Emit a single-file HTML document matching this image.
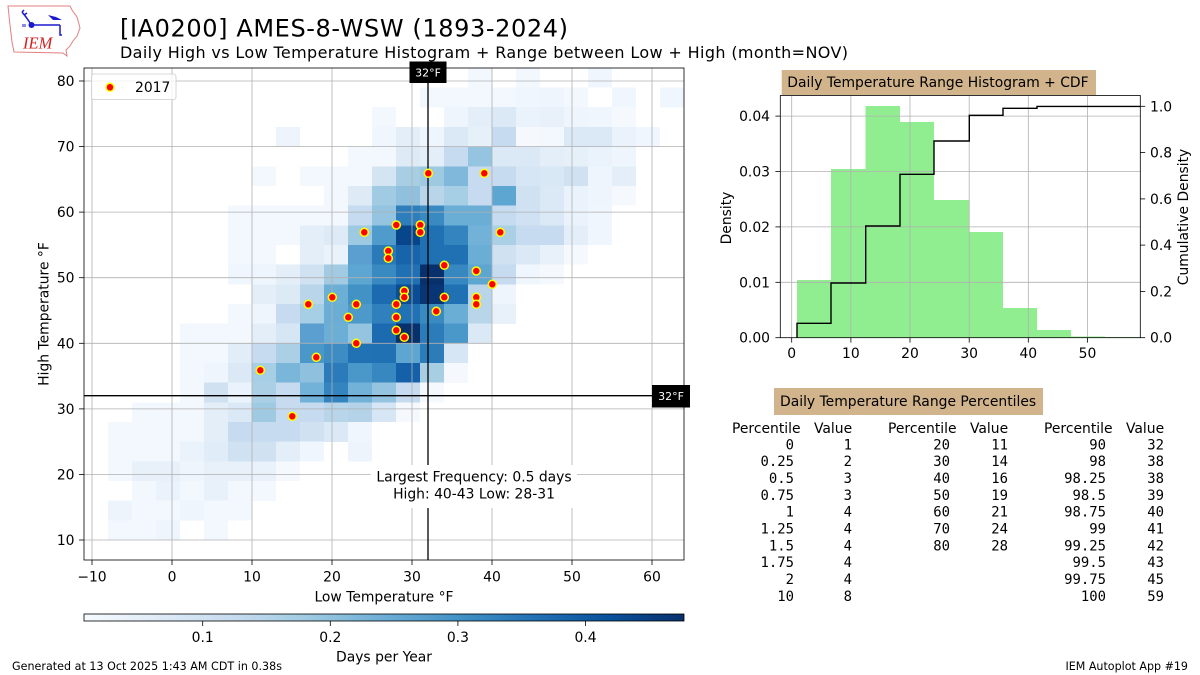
<!DOCTYPE html>
<html><head><meta charset="utf-8"><style>
html,body{margin:0;padding:0;background:#fff}
svg{display:block}
text{font-family:"DejaVu Sans","Liberation Sans",sans-serif;fill:#000}
.m text{font-family:"DejaVu Sans Mono","Liberation Mono",monospace}
</style></head><body>
<svg width="1200" height="675" viewBox="0 0 1200 675" xmlns="http://www.w3.org/2000/svg">
<rect width="1200" height="675" fill="#fff"/>
<!-- Logo -->
<g>
<path d="M8,6 L70,6 L72,10 L77,17 L80,28 L77,36 L73,41 L70,46 L66,50 L67,56 L63,53 L14,52 L12,42 L10,25 Z" fill="none" stroke="#e08080" stroke-width="1"/>
<path d="M31.5,25 L60,25 M31.5,25 L26,17 L22,12 M22,12 L24,10 M24,15 L27,13 M60,25 L60,35 L62,35" stroke="#1a1ad0" stroke-width="1.5" fill="none"/>
<path d="M48,15 L56,17 L62,20 L53,20 Z" fill="#1a1ad0"/>
<circle cx="31.5" cy="25" r="3" fill="#1a1ad0"/>
<path d="M23,24 L23,27 M25,24 L25,27" stroke="#1a1ad0" stroke-width="1"/>
<text x="23" y="48.5" font-style="italic" font-size="16.5" style="font-family:'Liberation Serif',serif;fill:#d02020">IEM</text>
</g>
<text x="120" y="36.5" font-size="24" textLength="448">[IA0200] AMES-8-WSW (1893-2024)</text>
<text x="120" y="58" font-size="16" textLength="728">Daily High vs Low Temperature Histogram + Range between Low + High (month=NOV)</text>

<defs><clipPath id="ax"><rect x="84" y="68" width="600" height="492"/></clipPath>
<linearGradient id="blues" x1="0" x2="1" y1="0" y2="0">
<stop offset="0" stop-color="#f7fbff"/><stop offset="0.125" stop-color="#deebf7"/><stop offset="0.25" stop-color="#c6dbef"/><stop offset="0.375" stop-color="#9ecae1"/><stop offset="0.5" stop-color="#6baed6"/><stop offset="0.625" stop-color="#4292c6"/><stop offset="0.75" stop-color="#2171b5"/><stop offset="0.875" stop-color="#08519c"/><stop offset="1" stop-color="#08306b"/>
</linearGradient></defs>

<g clip-path="url(#ax)" shape-rendering="crispEdges">
<g transform="translate(0,67.9)">
<rect x="468" width="24" height="19.8" fill="#f3f8fe"/><rect x="516" width="24" height="19.8" fill="#f3f8fe"/><rect x="588" width="24" height="19.8" fill="#f0f6fd"/>
</g>
<g transform="translate(0,87.57)">
<rect x="420" width="24" height="19.8" fill="#f3f8fe"/><rect x="444" width="24" height="19.8" fill="#f3f8fe"/><rect x="468" width="24" height="19.8" fill="#f3f8fe"/><rect x="492" width="24" height="19.8" fill="#f3f8fe"/><rect x="516" width="24" height="19.8" fill="#f0f6fd"/><rect x="540" width="24" height="19.8" fill="#eef5fc"/><rect x="564" width="24" height="19.8" fill="#f3f8fe"/><rect x="612" width="24" height="19.8" fill="#f0f6fd"/><rect x="660" width="24" height="19.8" fill="#f0f6fd"/>
</g>
<g transform="translate(0,107.24)">
<rect x="372" width="24" height="19.8" fill="#f3f8fe"/><rect x="444" width="24" height="19.8" fill="#eef5fc"/><rect x="468" width="24" height="19.8" fill="#e3eef8"/><rect x="492" width="24" height="19.8" fill="#dbe9f6"/><rect x="516" width="24" height="19.8" fill="#eaf2fb"/><rect x="540" width="24" height="19.8" fill="#e8f1fa"/><rect x="564" width="24" height="19.8" fill="#eef5fc"/><rect x="588" width="24" height="19.8" fill="#f0f6fd"/><rect x="612" width="24" height="19.8" fill="#f5f9fe"/>
</g>
<g transform="translate(0,126.92)">
<rect x="276" width="24" height="19.8" fill="#eef4fc"/><rect x="372" width="24" height="19.8" fill="#f0f6fd"/><rect x="396" width="24" height="19.8" fill="#e3eef9"/><rect x="420" width="24" height="19.8" fill="#eef5fc"/><rect x="444" width="24" height="19.8" fill="#dbe9f6"/><rect x="468" width="24" height="19.8" fill="#e6f0f9"/><rect x="492" width="24" height="19.8" fill="#c6dbef"/><rect x="516" width="24" height="19.8" fill="#f5f9fe"/><rect x="540" width="24" height="19.8" fill="#f3f8fe"/><rect x="564" width="24" height="19.8" fill="#dbe9f6"/><rect x="588" width="24" height="19.8" fill="#dbe9f6"/><rect x="612" width="24" height="19.8" fill="#eaf2fb"/><rect x="636" width="24" height="19.8" fill="#f0f6fd"/>
</g>
<g transform="translate(0,146.59)">
<rect x="348" width="24" height="19.8" fill="#f3f8fe"/><rect x="372" width="24" height="19.8" fill="#f3f8fe"/><rect x="396" width="24" height="19.8" fill="#deebf7"/><rect x="420" width="24" height="19.8" fill="#e3eef8"/><rect x="444" width="24" height="19.8" fill="#c6dbef"/><rect x="468" width="24" height="19.8" fill="#94c4df"/><rect x="492" width="24" height="19.8" fill="#dbe9f6"/><rect x="516" width="24" height="19.8" fill="#dbe9f6"/><rect x="540" width="24" height="19.8" fill="#e3eef8"/><rect x="564" width="24" height="19.8" fill="#e6f0f9"/><rect x="588" width="24" height="19.8" fill="#eaf2fb"/><rect x="612" width="24" height="19.8" fill="#eef5fc"/>
</g>
<g transform="translate(0,166.26)">
<rect x="252" width="24" height="19.8" fill="#f3f8fe"/><rect x="300" width="24" height="19.8" fill="#f3f8fe"/><rect x="324" width="24" height="19.8" fill="#f3f8fe"/><rect x="348" width="24" height="19.8" fill="#f3f8fe"/><rect x="372" width="24" height="19.8" fill="#d3e4f3"/><rect x="396" width="24" height="19.8" fill="#a8cee4"/><rect x="420" width="24" height="19.8" fill="#9ecae1"/><rect x="444" width="24" height="19.8" fill="#7fb8da"/><rect x="468" width="24" height="19.8" fill="#c6dbef"/><rect x="492" width="24" height="19.8" fill="#c6dbef"/><rect x="516" width="24" height="19.8" fill="#d6e6f4"/><rect x="540" width="24" height="19.8" fill="#d9e8f5"/><rect x="564" width="24" height="19.8" fill="#d0e1f2"/><rect x="588" width="24" height="19.8" fill="#eef5fc"/><rect x="612" width="24" height="19.8" fill="#e3eef8"/>
</g>
<g transform="translate(0,185.93)">
<rect x="324" width="24" height="19.8" fill="#f3f8fe"/><rect x="348" width="24" height="19.8" fill="#deebf7"/><rect x="372" width="24" height="19.8" fill="#a0cbe2"/><rect x="396" width="24" height="19.8" fill="#8fc1de"/><rect x="420" width="24" height="19.8" fill="#b8d5ea"/><rect x="444" width="24" height="19.8" fill="#a6cee4"/><rect x="468" width="24" height="19.8" fill="#c6dbef"/><rect x="492" width="24" height="19.8" fill="#5ea6d2"/><rect x="516" width="24" height="19.8" fill="#d0e1f2"/><rect x="540" width="24" height="19.8" fill="#dbe9f6"/><rect x="564" width="24" height="19.8" fill="#eaf2fb"/><rect x="588" width="24" height="19.8" fill="#eef5fc"/><rect x="612" width="24" height="19.8" fill="#f5f9fe"/>
</g>
<g transform="translate(0,205.6)">
<rect x="228" width="24" height="19.8" fill="#f3f8fe"/><rect x="252" width="24" height="19.8" fill="#f3f8fe"/><rect x="276" width="24" height="19.8" fill="#f3f8fe"/><rect x="300" width="24" height="19.8" fill="#f3f8fe"/><rect x="324" width="24" height="19.8" fill="#f3f8fe"/><rect x="348" width="24" height="19.8" fill="#c6dbef"/><rect x="372" width="24" height="19.8" fill="#94c4df"/><rect x="396" width="24" height="19.8" fill="#2f7ebc"/><rect x="420" width="24" height="19.8" fill="#3a8ac2"/><rect x="444" width="24" height="19.8" fill="#6aaed6"/><rect x="468" width="24" height="19.8" fill="#6aaed6"/><rect x="492" width="24" height="19.8" fill="#c6dbef"/><rect x="516" width="24" height="19.8" fill="#cfe1f2"/><rect x="540" width="24" height="19.8" fill="#dbe9f6"/><rect x="564" width="24" height="19.8" fill="#eaf2fb"/><rect x="588" width="24" height="19.8" fill="#f0f6fd"/>
</g>
<g transform="translate(0,225.28)">
<rect x="228" width="24" height="19.8" fill="#f3f8fe"/><rect x="252" width="24" height="19.8" fill="#f3f8fe"/><rect x="276" width="24" height="19.8" fill="#f3f8fe"/><rect x="300" width="24" height="19.8" fill="#e3eef8"/><rect x="324" width="24" height="19.8" fill="#deebf7"/><rect x="348" width="24" height="19.8" fill="#9ecae1"/><rect x="372" width="24" height="19.8" fill="#4f9bcb"/><rect x="396" width="24" height="19.8" fill="#08468b"/><rect x="420" width="24" height="19.8" fill="#2070b4"/><rect x="444" width="24" height="19.8" fill="#3484bf"/><rect x="468" width="24" height="19.8" fill="#72b2d8"/><rect x="492" width="24" height="19.8" fill="#abd0e6"/><rect x="516" width="24" height="19.8" fill="#c6dbef"/><rect x="540" width="24" height="19.8" fill="#c6dbef"/><rect x="564" width="24" height="19.8" fill="#e3eef8"/><rect x="588" width="24" height="19.8" fill="#f0f6fd"/>
</g>
<g transform="translate(0,244.95)">
<rect x="228" width="24" height="19.8" fill="#f3f8fe"/><rect x="252" width="24" height="19.8" fill="#f3f8fe"/><rect x="300" width="24" height="19.8" fill="#e3eef9"/><rect x="324" width="24" height="19.8" fill="#eaf2fb"/><rect x="348" width="24" height="19.8" fill="#5a9fd0"/><rect x="372" width="24" height="19.8" fill="#2a7ab9"/><rect x="396" width="24" height="19.8" fill="#1764ab"/><rect x="420" width="24" height="19.8" fill="#2070b4"/><rect x="444" width="24" height="19.8" fill="#2070b4"/><rect x="468" width="24" height="19.8" fill="#6aaed6"/><rect x="492" width="24" height="19.8" fill="#d0e1f2"/><rect x="516" width="24" height="19.8" fill="#dbe9f6"/><rect x="540" width="24" height="19.8" fill="#e8f1fa"/><rect x="564" width="24" height="19.8" fill="#f5f9fe"/>
</g>
<g transform="translate(0,264.62)">
<rect x="228" width="24" height="19.8" fill="#f0f6fd"/><rect x="252" width="24" height="19.8" fill="#eef5fc"/><rect x="276" width="24" height="19.8" fill="#e3eef8"/><rect x="300" width="24" height="19.8" fill="#d0e1f2"/><rect x="324" width="24" height="19.8" fill="#a0cbe2"/><rect x="348" width="24" height="19.8" fill="#5ea6d2"/><rect x="372" width="24" height="19.8" fill="#3a8ac2"/><rect x="396" width="24" height="19.8" fill="#2070b4"/><rect x="420" width="24" height="19.8" fill="#08306b"/><rect x="444" width="24" height="19.8" fill="#3787c0"/><rect x="468" width="24" height="19.8" fill="#5ea6d2"/><rect x="492" width="24" height="19.8" fill="#c6dbef"/><rect x="516" width="24" height="19.8" fill="#f0f6fd"/><rect x="540" width="24" height="19.8" fill="#f5f9fe"/>
</g>
<g transform="translate(0,284.29)">
<rect x="252" width="24" height="19.8" fill="#e3eef9"/><rect x="276" width="24" height="19.8" fill="#dceaf6"/><rect x="300" width="24" height="19.8" fill="#b8d5ea"/><rect x="324" width="24" height="19.8" fill="#6baed6"/><rect x="348" width="24" height="19.8" fill="#4292c6"/><rect x="372" width="24" height="19.8" fill="#1c6aaf"/><rect x="396" width="24" height="19.8" fill="#0b4d94"/><rect x="420" width="24" height="19.8" fill="#083573"/><rect x="444" width="24" height="19.8" fill="#2070b4"/><rect x="468" width="24" height="19.8" fill="#b8d5ea"/><rect x="492" width="24" height="19.8" fill="#eef5fc"/>
</g>
<g transform="translate(0,303.96)">
<rect x="228" width="24" height="19.8" fill="#f3f8fe"/><rect x="252" width="24" height="19.8" fill="#eef5fc"/><rect x="276" width="24" height="19.8" fill="#c6dbef"/><rect x="300" width="24" height="19.8" fill="#a6cee4"/><rect x="324" width="24" height="19.8" fill="#6aaed6"/><rect x="348" width="24" height="19.8" fill="#4d99ca"/><rect x="372" width="24" height="19.8" fill="#3080bd"/><rect x="396" width="24" height="19.8" fill="#2171b5"/><rect x="420" width="24" height="19.8" fill="#3a8ac2"/><rect x="444" width="24" height="19.8" fill="#6aaed6"/><rect x="468" width="24" height="19.8" fill="#b8d5ea"/><rect x="492" width="24" height="19.8" fill="#e8f1fa"/>
</g>
<g transform="translate(0,323.64)">
<rect x="180" width="24" height="19.8" fill="#f3f8fe"/><rect x="204" width="24" height="19.8" fill="#f3f8fe"/><rect x="228" width="24" height="19.8" fill="#f3f8fe"/><rect x="252" width="24" height="19.8" fill="#e3eef9"/><rect x="276" width="24" height="19.8" fill="#d6e6f4"/><rect x="300" width="24" height="19.8" fill="#5a9fd0"/><rect x="324" width="24" height="19.8" fill="#6baed6"/><rect x="348" width="24" height="19.8" fill="#94c4df"/><rect x="372" width="24" height="19.8" fill="#1c6aaf"/><rect x="396" width="24" height="19.8" fill="#08306b"/><rect x="420" width="24" height="19.8" fill="#2c7cba"/><rect x="444" width="24" height="19.8" fill="#4a98c9"/><rect x="468" width="24" height="19.8" fill="#dbe9f6"/>
</g>
<g transform="translate(0,343.31)">
<rect x="180" width="24" height="19.8" fill="#f3f8fe"/><rect x="204" width="24" height="19.8" fill="#f3f8fe"/><rect x="228" width="24" height="19.8" fill="#e1edf8"/><rect x="252" width="24" height="19.8" fill="#c6dbef"/><rect x="276" width="24" height="19.8" fill="#abd0e6"/><rect x="300" width="24" height="19.8" fill="#4a98c9"/><rect x="324" width="24" height="19.8" fill="#3d8dc4"/><rect x="348" width="24" height="19.8" fill="#2171b5"/><rect x="372" width="24" height="19.8" fill="#2070b4"/><rect x="396" width="24" height="19.8" fill="#5ea6d2"/><rect x="420" width="24" height="19.8" fill="#2c7cba"/><rect x="444" width="24" height="19.8" fill="#d6e6f4"/>
</g>
<g transform="translate(0,362.98)">
<rect x="180" width="24" height="19.8" fill="#f3f8fe"/><rect x="204" width="24" height="19.8" fill="#eef5fc"/><rect x="228" width="24" height="19.8" fill="#dbe9f6"/><rect x="252" width="24" height="19.8" fill="#a6cee4"/><rect x="276" width="24" height="19.8" fill="#7ab6d9"/><rect x="300" width="24" height="19.8" fill="#8fc1de"/><rect x="324" width="24" height="19.8" fill="#2b7bba"/><rect x="348" width="24" height="19.8" fill="#4a98c9"/><rect x="372" width="24" height="19.8" fill="#3787c0"/><rect x="396" width="24" height="19.8" fill="#1561a9"/><rect x="420" width="24" height="19.8" fill="#a8cee4"/><rect x="444" width="24" height="19.8" fill="#f5f9fe"/>
</g>
<g transform="translate(0,382.65)">
<rect x="180" width="24" height="19.8" fill="#f3f8fe"/><rect x="204" width="24" height="19.8" fill="#d0e1f2"/><rect x="228" width="24" height="19.8" fill="#eaf2fb"/><rect x="252" width="24" height="19.8" fill="#abd0e6"/><rect x="276" width="24" height="19.8" fill="#c6dbef"/><rect x="300" width="24" height="19.8" fill="#72b2d8"/><rect x="324" width="24" height="19.8" fill="#3484bf"/><rect x="348" width="24" height="19.8" fill="#72b2d8"/><rect x="372" width="24" height="19.8" fill="#94c4df"/><rect x="396" width="24" height="19.8" fill="#c6dbef"/><rect x="420" width="24" height="19.8" fill="#f5f9fe"/>
</g>
<g transform="translate(0,402.32)">
<rect x="132" width="24" height="19.8" fill="#f3f8fe"/><rect x="156" width="24" height="19.8" fill="#f3f8fe"/><rect x="180" width="24" height="19.8" fill="#f3f8fe"/><rect x="204" width="24" height="19.8" fill="#e3eef9"/><rect x="228" width="24" height="19.8" fill="#dbe9f6"/><rect x="252" width="24" height="19.8" fill="#9fcae1"/><rect x="276" width="24" height="19.8" fill="#c6dbef"/><rect x="300" width="24" height="19.8" fill="#c6dbef"/><rect x="324" width="24" height="19.8" fill="#b8d5ea"/><rect x="348" width="24" height="19.8" fill="#b4d3e9"/><rect x="372" width="24" height="19.8" fill="#d6e6f4"/><rect x="396" width="24" height="19.8" fill="#f5f9fe"/>
</g>
<g transform="translate(0,421.99)">
<rect x="108" width="24" height="19.8" fill="#f3f8fe"/><rect x="132" width="24" height="19.8" fill="#f3f8fe"/><rect x="156" width="24" height="19.8" fill="#f3f8fe"/><rect x="180" width="24" height="19.8" fill="#f3f8fe"/><rect x="204" width="24" height="19.8" fill="#e3eef9"/><rect x="228" width="24" height="19.8" fill="#c6dbef"/><rect x="252" width="24" height="19.8" fill="#c6dbef"/><rect x="276" width="24" height="19.8" fill="#c6dbef"/><rect x="300" width="24" height="19.8" fill="#d0e1f2"/><rect x="324" width="24" height="19.8" fill="#dbe9f6"/><rect x="348" width="24" height="19.8" fill="#f0f6fd"/>
</g>
<g transform="translate(0,441.67)">
<rect x="108" width="24" height="19.8" fill="#f3f8fe"/><rect x="132" width="24" height="19.8" fill="#f3f8fe"/><rect x="156" width="24" height="19.8" fill="#f3f8fe"/><rect x="180" width="24" height="19.8" fill="#eaf2fb"/><rect x="204" width="24" height="19.8" fill="#e0ecf8"/><rect x="228" width="24" height="19.8" fill="#d0e1f2"/><rect x="252" width="24" height="19.8" fill="#d0e1f2"/><rect x="276" width="24" height="19.8" fill="#e3eef8"/><rect x="300" width="24" height="19.8" fill="#f0f6fd"/><rect x="348" width="24" height="19.8" fill="#edf4fc"/>
</g>
<g transform="translate(0,461.34)">
<rect x="108" width="24" height="19.8" fill="#f3f8fe"/><rect x="132" width="24" height="19.8" fill="#e8f1fa"/><rect x="156" width="24" height="19.8" fill="#e8f1fa"/><rect x="180" width="24" height="19.8" fill="#eef5fc"/><rect x="204" width="24" height="19.8" fill="#e8f1fa"/><rect x="228" width="24" height="19.8" fill="#e8f1fa"/><rect x="252" width="24" height="19.8" fill="#e9f2fb"/><rect x="276" width="24" height="19.8" fill="#f5f9fe"/>
</g>
<g transform="translate(0,481.01)">
<rect x="132" width="24" height="19.8" fill="#f3f8fe"/><rect x="156" width="24" height="19.8" fill="#eaf2fb"/><rect x="180" width="24" height="19.8" fill="#f3f8fe"/><rect x="204" width="24" height="19.8" fill="#e8f1fa"/><rect x="228" width="24" height="19.8" fill="#f3f8fe"/><rect x="252" width="24" height="19.8" fill="#f3f8fe"/>
</g>
<g transform="translate(0,500.68)">
<rect x="108" width="24" height="19.8" fill="#edf4fc"/><rect x="132" width="24" height="19.8" fill="#f3f8fe"/><rect x="156" width="24" height="19.8" fill="#f3f8fe"/><rect x="180" width="24" height="19.8" fill="#eef5fc"/><rect x="204" width="24" height="19.8" fill="#f3f8fe"/><rect x="228" width="24" height="19.8" fill="#f3f8fe"/>
</g>
<g transform="translate(0,520.35)">
<rect x="108" width="24" height="19.8" fill="#f3f8fe"/><rect x="132" width="24" height="19.8" fill="#f3f8fe"/><rect x="156" width="24" height="19.8" fill="#eff5fc"/><rect x="204" width="24" height="19.8" fill="#f3f8fe"/>
</g>
</g>

<!-- main grid -->
<g stroke="#b0b0b0" stroke-width="0.8">
<line x1="92" y1="68" x2="92" y2="560"/><line x1="172" y1="68" x2="172" y2="560"/><line x1="252" y1="68" x2="252" y2="560"/><line x1="332" y1="68" x2="332" y2="560"/><line x1="412" y1="68" x2="412" y2="560"/><line x1="492" y1="68" x2="492" y2="560"/><line x1="572" y1="68" x2="572" y2="560"/><line x1="652" y1="68" x2="652" y2="560"/>
<line x1="84" y1="81" x2="684" y2="81"/><line x1="84" y1="146.6" x2="684" y2="146.6"/><line x1="84" y1="212.1" x2="684" y2="212.1"/><line x1="84" y1="277.7" x2="684" y2="277.7"/><line x1="84" y1="343.3" x2="684" y2="343.3"/><line x1="84" y1="408.9" x2="684" y2="408.9"/><line x1="84" y1="474.4" x2="684" y2="474.4"/><line x1="84" y1="540" x2="684" y2="540"/>
</g>
<line x1="428" y1="68" x2="428" y2="560" stroke="#000" stroke-width="1.3"/>
<line x1="84" y1="395.7" x2="684" y2="395.7" stroke="#000" stroke-width="1.3"/>
<g fill="#ff0000" stroke="#ffff00" stroke-width="1.5">
<circle cx="428.3" cy="173.3" r="4"/><circle cx="484.3" cy="173.3" r="4"/><circle cx="396.3" cy="225" r="4"/><circle cx="420.3" cy="225" r="4"/><circle cx="420.3" cy="232.3" r="4"/><circle cx="364.3" cy="232.3" r="4"/><circle cx="500.3" cy="232.3" r="4"/><circle cx="388.3" cy="251" r="4"/><circle cx="388.3" cy="258.3" r="4"/><circle cx="444.3" cy="265.3" r="4"/><circle cx="476.3" cy="271" r="4"/><circle cx="492.3" cy="284.3" r="4"/><circle cx="404.3" cy="291" r="4"/><circle cx="404.3" cy="297.3" r="4"/><circle cx="444.3" cy="297.3" r="4"/><circle cx="476.3" cy="297.3" r="4"/><circle cx="476.3" cy="304.3" r="4"/><circle cx="396.3" cy="304.3" r="4"/><circle cx="332.3" cy="297.3" r="4"/><circle cx="308.3" cy="304.3" r="4"/><circle cx="356.3" cy="304.3" r="4"/><circle cx="436.3" cy="311.3" r="4"/><circle cx="348.3" cy="317.3" r="4"/><circle cx="396.3" cy="317.3" r="4"/><circle cx="396.3" cy="330.3" r="4"/><circle cx="404.3" cy="337.3" r="4"/><circle cx="356.3" cy="343.3" r="4"/><circle cx="316.3" cy="357.3" r="4"/><circle cx="260.3" cy="370.3" r="4"/><circle cx="292.3" cy="416.3" r="4"/>
</g>
<rect x="370.7" y="465" width="206.3" height="43" fill="#fff"/>
<text x="474" y="481.7" font-size="13.9" text-anchor="middle">Largest Frequency: 0.5 days</text>
<text x="474" y="498.3" font-size="13.9" text-anchor="middle">High: 40-43 Low: 28-31</text>
<rect x="91.5" y="74" width="84.5" height="25.5" rx="2.5" fill="#fff" fill-opacity="0.8" stroke="#cccccc" stroke-width="0.8"/>
<circle cx="110" cy="87.3" r="4" fill="#ff0000" stroke="#ffff00" stroke-width="1.5"/>
<text x="135" y="92.2" font-size="13.9">2017</text>
<rect x="84" y="68" width="600" height="492" fill="none" stroke="#000" stroke-width="0.8"/>
<rect x="409.5" y="61.5" width="37" height="21.5" fill="#000"/>
<text x="428" y="76.3" font-size="11" text-anchor="middle" style="fill:#fff">32°F</text>
<rect x="652" y="385" width="38" height="22.5" fill="#000"/>
<text x="671" y="400" font-size="11" text-anchor="middle" style="fill:#fff">32°F</text>
<g stroke="#000" stroke-width="0.8">
<line x1="92" y1="560" x2="92" y2="565"/><line x1="172" y1="560" x2="172" y2="565"/><line x1="252" y1="560" x2="252" y2="565"/><line x1="332" y1="560" x2="332" y2="565"/><line x1="412" y1="560" x2="412" y2="565"/><line x1="492" y1="560" x2="492" y2="565"/><line x1="572" y1="560" x2="572" y2="565"/><line x1="652" y1="560" x2="652" y2="565"/>
<line x1="79" y1="81" x2="84" y2="81"/><line x1="79" y1="146.6" x2="84" y2="146.6"/><line x1="79" y1="212.1" x2="84" y2="212.1"/><line x1="79" y1="277.7" x2="84" y2="277.7"/><line x1="79" y1="343.3" x2="84" y2="343.3"/><line x1="79" y1="408.9" x2="84" y2="408.9"/><line x1="79" y1="474.4" x2="84" y2="474.4"/><line x1="79" y1="540" x2="84" y2="540"/>
</g>
<g font-size="13.9" text-anchor="middle">
<text x="92" y="581.5">−10</text><text x="172" y="581.5">0</text><text x="252" y="581.5">10</text><text x="332" y="581.5">20</text><text x="412" y="581.5">30</text><text x="492" y="581.5">40</text><text x="572" y="581.5">50</text><text x="652" y="581.5">60</text>
</g>
<g font-size="13.9" text-anchor="end">
<text x="74.5" y="86">80</text><text x="74.5" y="151.6">70</text><text x="74.5" y="217.1">60</text><text x="74.5" y="282.7">50</text><text x="74.5" y="348.3">40</text><text x="74.5" y="413.9">30</text><text x="74.5" y="479.4">20</text><text x="74.5" y="545">10</text>
</g>
<text x="384" y="601.5" font-size="13.9" text-anchor="middle">Low Temperature °F</text>
<text transform="translate(48.5,314) rotate(-90)" font-size="13.9" text-anchor="middle">High Temperature °F</text>
<rect x="84" y="614" width="600" height="7" fill="url(#blues)" stroke="#000" stroke-width="0.8"/>
<g stroke="#000" stroke-width="0.8">
<line x1="202.7" y1="621" x2="202.7" y2="626"/><line x1="330.3" y1="621" x2="330.3" y2="626"/><line x1="457.9" y1="621" x2="457.9" y2="626"/><line x1="585.5" y1="621" x2="585.5" y2="626"/>
</g>
<g font-size="13.9" text-anchor="middle">
<text x="202.7" y="642">0.1</text><text x="330.3" y="642">0.2</text><text x="457.9" y="642">0.3</text><text x="585.5" y="642">0.4</text>
</g>
<text x="384" y="661.5" font-size="13.9" text-anchor="middle">Days per Year</text>

<!-- histogram -->
<g fill="#90ee90" shape-rendering="crispEdges">
<rect x="797" y="280" width="34" height="57.7"/><rect x="831" y="169" width="34.7" height="168.7"/><rect x="865.7" y="106" width="34.3" height="231.7"/><rect x="900" y="122" width="34" height="215.7"/><rect x="934" y="200" width="35.3" height="137.7"/><rect x="969.3" y="232" width="33.7" height="105.7"/><rect x="1003" y="308" width="34" height="29.7"/><rect x="1037" y="330" width="34" height="7.7"/><rect x="1071" y="336.6" width="34" height="1.1"/><rect x="1105" y="337" width="35" height="0.7"/>
</g>
<g stroke="#b0b0b0" stroke-width="0.8">
<line x1="791.7" y1="96" x2="791.7" y2="337.7"/><line x1="850.9" y1="96" x2="850.9" y2="337.7"/><line x1="910" y1="96" x2="910" y2="337.7"/><line x1="969.2" y1="96" x2="969.2" y2="337.7"/><line x1="1028.3" y1="96" x2="1028.3" y2="337.7"/><line x1="1087.5" y1="96" x2="1087.5" y2="337.7"/>
<line x1="780.3" y1="282.3" x2="1140.3" y2="282.3"/><line x1="780.3" y1="226.9" x2="1140.3" y2="226.9"/><line x1="780.3" y1="171.5" x2="1140.3" y2="171.5"/><line x1="780.3" y1="116.1" x2="1140.3" y2="116.1"/>
</g>
<path d="M797,337.7 V323.3 H831 V283 H865.7 V226 H900 V174.3 H934 V141 H969.3 V115.3 H1003 V108.3 H1037 V106.4 H1140.3" fill="none" stroke="#000" stroke-width="1.4"/>
<rect x="780.3" y="95.5" width="360" height="242.2" fill="none" stroke="#000" stroke-width="0.8"/>
<g stroke="#000" stroke-width="0.8">
<line x1="775.4" y1="337.7" x2="780.3" y2="337.7"/><line x1="775.4" y1="282.3" x2="780.3" y2="282.3"/><line x1="775.4" y1="226.9" x2="780.3" y2="226.9"/><line x1="775.4" y1="171.5" x2="780.3" y2="171.5"/><line x1="775.4" y1="116.1" x2="780.3" y2="116.1"/>
<line x1="1140.3" y1="337.7" x2="1145.2" y2="337.7"/><line x1="1140.3" y1="291.4" x2="1145.2" y2="291.4"/><line x1="1140.3" y1="245.1" x2="1145.2" y2="245.1"/><line x1="1140.3" y1="198.9" x2="1145.2" y2="198.9"/><line x1="1140.3" y1="152.6" x2="1145.2" y2="152.6"/><line x1="1140.3" y1="106.3" x2="1145.2" y2="106.3"/>
<line x1="791.7" y1="337.7" x2="791.7" y2="342.6"/><line x1="850.9" y1="337.7" x2="850.9" y2="342.6"/><line x1="910" y1="337.7" x2="910" y2="342.6"/><line x1="969.2" y1="337.7" x2="969.2" y2="342.6"/><line x1="1028.3" y1="337.7" x2="1028.3" y2="342.6"/><line x1="1087.5" y1="337.7" x2="1087.5" y2="342.6"/>
</g>
<g font-size="13.9" text-anchor="end">
<text x="770" y="342.7">0.00</text><text x="770" y="287.3">0.01</text><text x="770" y="231.9">0.02</text><text x="770" y="176.5">0.03</text><text x="770" y="121.1">0.04</text>
</g>
<g font-size="13.9">
<text x="1150" y="342.7">0.0</text><text x="1150" y="296.4">0.2</text><text x="1150" y="250.1">0.4</text><text x="1150" y="203.9">0.6</text><text x="1150" y="157.6">0.8</text><text x="1150" y="111.3">1.0</text>
</g>
<g font-size="13.9" text-anchor="middle">
<text x="791.7" y="358">0</text><text x="850.9" y="358">10</text><text x="910" y="358">20</text><text x="969.2" y="358">30</text><text x="1028.3" y="358">40</text><text x="1087.5" y="358">50</text>
</g>
<text transform="translate(731,218) rotate(-90)" font-size="13.9" text-anchor="middle">Density</text>
<text transform="translate(1188,217) rotate(-90)" font-size="13.9" text-anchor="middle">Cumulative Density</text>
<rect x="781.7" y="70" width="314.3" height="25" fill="#d2b48c"/>
<text x="787.3" y="87.2" font-size="13.9">Daily Temperature Range Histogram + CDF</text>

<!-- percentiles table -->
<rect x="774" y="388" width="269" height="27" fill="#d2b48c"/>
<text x="780" y="406" font-size="13.9">Daily Temperature Range Percentiles</text>
<g font-size="13.9">
<text x="732" y="433">Percentile</text><text x="814" y="433">Value</text>
<text x="888" y="433">Percentile</text><text x="970" y="433">Value</text>
<text x="1044" y="433">Percentile</text><text x="1126" y="433">Value</text>
</g>
<g font-size="13.9" text-anchor="end" class="m">
<text x="794" y="449.3">0</text><text x="852" y="449.3">1</text>
<text x="794" y="466.1">0.25</text><text x="852" y="466.1">2</text>
<text x="794" y="483">0.5</text><text x="852" y="483">3</text>
<text x="794" y="499.8">0.75</text><text x="852" y="499.8">3</text>
<text x="794" y="516.6">1</text><text x="852" y="516.6">4</text>
<text x="794" y="533.5">1.25</text><text x="852" y="533.5">4</text>
<text x="794" y="550.3">1.5</text><text x="852" y="550.3">4</text>
<text x="794" y="567.1">1.75</text><text x="852" y="567.1">4</text>
<text x="794" y="583.9">2</text><text x="852" y="583.9">4</text>
<text x="794" y="600.8">10</text><text x="852" y="600.8">8</text>

<text x="950" y="449.3">20</text><text x="1008" y="449.3">11</text>
<text x="950" y="466.1">30</text><text x="1008" y="466.1">14</text>
<text x="950" y="483">40</text><text x="1008" y="483">16</text>
<text x="950" y="499.8">50</text><text x="1008" y="499.8">19</text>
<text x="950" y="516.6">60</text><text x="1008" y="516.6">21</text>
<text x="950" y="533.5">70</text><text x="1008" y="533.5">24</text>
<text x="950" y="550.3">80</text><text x="1008" y="550.3">28</text>

<text x="1106" y="449.3">90</text><text x="1164" y="449.3">32</text>
<text x="1106" y="466.1">98</text><text x="1164" y="466.1">38</text>
<text x="1106" y="483">98.25</text><text x="1164" y="483">38</text>
<text x="1106" y="499.8">98.5</text><text x="1164" y="499.8">39</text>
<text x="1106" y="516.6">98.75</text><text x="1164" y="516.6">40</text>
<text x="1106" y="533.5">99</text><text x="1164" y="533.5">41</text>
<text x="1106" y="550.3">99.25</text><text x="1164" y="550.3">42</text>
<text x="1106" y="567.1">99.5</text><text x="1164" y="567.1">43</text>
<text x="1106" y="583.9">99.75</text><text x="1164" y="583.9">45</text>
<text x="1106" y="600.8">100</text><text x="1164" y="600.8">59</text>
</g>

<text x="12" y="670" font-size="11.1" textLength="270">Generated at 13 Oct 2025 1:43 AM CDT in 0.38s</text>
<text x="1188" y="670" font-size="11.1" text-anchor="end">IEM Autoplot App #19</text>
</svg>
</body></html>
